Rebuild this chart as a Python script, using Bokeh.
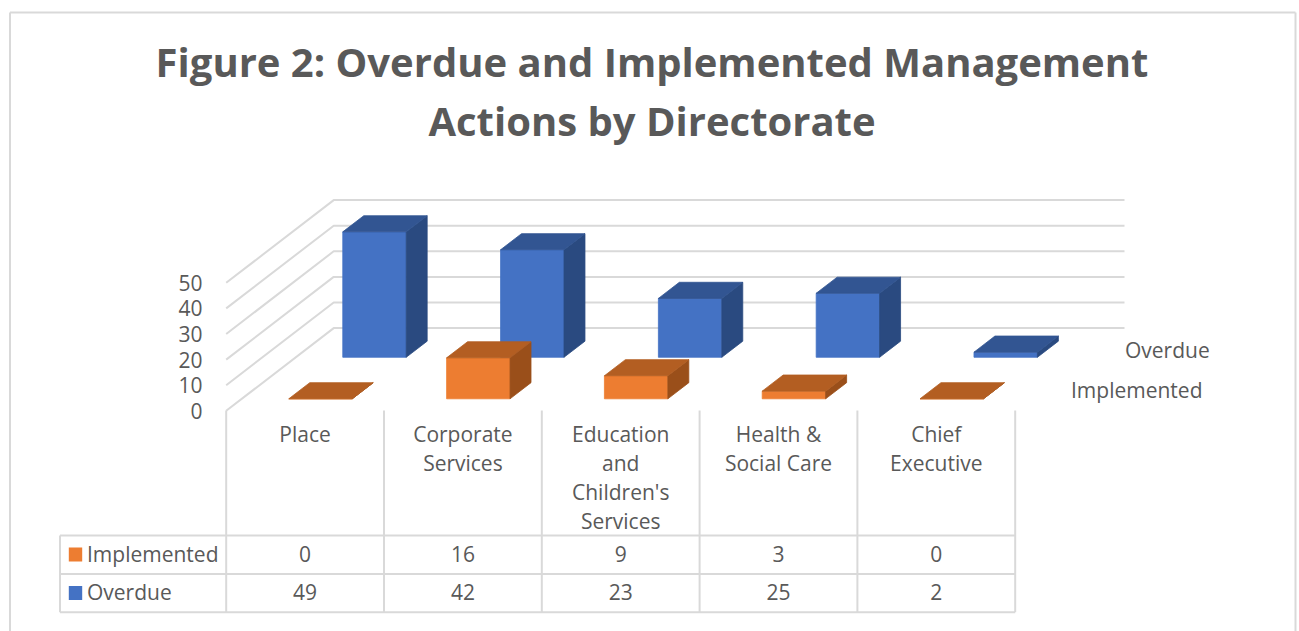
from bokeh.plotting import figure
from bokeh.models import Range1d, LinearAxis, FixedTicker
from bokeh.core.properties import value
from bokeh.embed import file_html
from bokeh.resources import INLINE

title_lines = ["Figure 2: Overdue and Implemented Management", "Actions by Directorate"]
categories = ["Place", "Corporate\nServices", "Education\nand\nChildren's\nServices", "Health &\nSocial Care", "Chief\nExecutive"]
implemented = [0, 16, 9, 3, 0]
overdue = [49, 42, 23, 25, 2]
y_ticks = [0, 10, 20, 30, 40, 50]
series_names = ["Implemented", "Overdue"]

FONT = "Open Sans"
TXT = "#595959"
GRID = "#D9D9D9"
COLORS = {"Overdue": ("#4472C4", "#325592", "#2A4A80"),
          "Implemented": ("#ED7D31", "#B35E22", "#9A4F1A")}

# page geometry
W, H = 1299, 631
CAT_PX, VAL_PX = 157.8, 2.56
X0_PX, Y0_PX = 225.7, 410.3
DEPTH_DX, DEPTH_DY = 107.5, 82.7


def dx(px):
    return (px - X0_PX) / CAT_PX


def dy(px):
    return (Y0_PX - px) / VAL_PX


def project(cat, z, v):
    return cat + z * DEPTH_DX / CAT_PX, v + z * DEPTH_DY / VAL_PX


p = figure(width=W, height=H, output_backend="svg", toolbar_location=None,
           x_range=Range1d(dx(0), dx(W)), y_range=Range1d(dy(H), dy(0)),
           x_axis_location=None, y_axis_location=None, min_border=0, outline_line_color=None)
p.grid.visible = False

# chart border
p.segment(x0=[dx(9.5), dx(9.5), dx(1295)], y0=[dy(12), dy(12), dy(12)],
          x1=[dx(1295), dx(9.5), dx(1295)], y1=[dy(12), dy(631), dy(631)],
          line_color=GRID, line_width=2)

# y axis
axis = LinearAxis(fixed_location=dx(225), ticker=FixedTicker(ticks=y_ticks),
                  axis_line_color=None, major_tick_line_color=None, minor_tick_line_color=None,
                  major_label_text_font=FONT, major_label_text_font_size="21px",
                  major_label_text_color=TXT, major_label_standoff=17)
p.add_layout(axis, "left")

# gridlines: side wall + back wall
n_cat = len(categories)
grid_x, grid_y = [], []
for t in y_ticks:
    fx, fy = project(0, 0, t)
    bx, by = project(0, 1, t)
    grid_x.append([fx, bx, dx(1124)])
    grid_y.append([fy, by, by])
p.multi_line(grid_x, grid_y, line_color=GRID, line_width=2)

# 3D bars, back row first
Z_START = {"Overdue": 0.647, "Implemented": 0.145}
BAR_D = 0.195
BAR_L, BAR_R = 0.298, 0.7
for name, vals in (("Overdue", overdue), ("Implemented", implemented)):
    front_c, top_c, side_c = COLORS[name]
    z0, z1 = Z_START[name], Z_START[name] + BAR_D
    for i, v in enumerate(vals):
        a = project(i + BAR_L, z0, 0)
        b = project(i + BAR_R, z0, 0)
        c = project(i + BAR_R, z0, v)
        d = project(i + BAR_L, z0, v)
        e = project(i + BAR_L, z1, v)
        f = project(i + BAR_R, z1, v)
        g = project(i + BAR_R, z1, 0)
        for pts, col in (([a, b, c, d], front_c), ([b, g, f, c], side_c), ([d, c, f, e], top_c)):
            p.patch([q[0] for q in pts], [q[1] for q in pts], fill_color=col, line_color=col, line_width=0.8)

# series labels at the depth axis
p.text([dx(1124.5)], [dy(349.5)], text=["Overdue"], text_font=value(FONT), text_font_size="21px",
       text_color=TXT, text_align="left", text_baseline="middle")
p.text([dx(1070.5)], [dy(389.5)], text=["Implemented"], text_font=value(FONT), text_font_size="21px",
       text_color=TXT, text_align="left", text_baseline="middle")

# title
p.text([dx(651.5), dx(651.5)], [dy(60.5), dy(119.5)], text=title_lines, text_font=value(FONT),
       text_font_style="bold", text_font_size="40px", text_color=TXT,
       text_align="center", text_baseline="middle")

# data table: rules
row_tops = [535, 573.5, 611.7]
tx0, ty0, tx1, ty1 = [], [], [], []
for i in range(n_cat + 1):
    tx0.append(i); tx1.append(i); ty0.append(dy(410)); ty1.append(dy(row_tops[-1]))
for r in row_tops:
    tx0.append(dx(59.5)); tx1.append(n_cat); ty0.append(dy(r)); ty1.append(dy(r))
tx0.append(dx(59.5)); tx1.append(dx(59.5)); ty0.append(dy(row_tops[0])); ty1.append(dy(row_tops[-1]))
p.segment(tx0, ty0, tx1, ty1, line_color=GRID, line_width=2)

# data table: category headers
hx, hy, ht = [], [], []
for i, c in enumerate(categories):
    for j, line in enumerate(c.split("\n")):
        hx.append(i + 0.5)
        hy.append(dy(433 + 29 * j))
        ht.append(line)
p.text(hx, hy, text=ht, text_font=value(FONT), text_font_size="21px", text_color=TXT,
       text_align="center", text_baseline="middle")

# data table: values and legend keys
for name, vals, yc in (("Implemented", implemented, 553), ("Overdue", overdue, 591.5)):
    p.text([i + 0.5 for i in range(n_cat)], [dy(yc)] * n_cat, text=[str(v) for v in vals],
           text_font=value(FONT), text_font_size="21px", text_color=TXT,
           text_align="center", text_baseline="middle")
    p.text([dx(86.5)], [dy(yc)], text=[name], text_font=value(FONT), text_font_size="21px",
           text_color=TXT, text_align="left", text_baseline="middle")
    p.quad(left=[dx(68.3)], right=[dx(81.7)], top=[dy(yc - 6)], bottom=[dy(yc + 8)],
           fill_color=COLORS[name][0], line_color=None)

open("out.html", "w").write(file_html(p, INLINE))
